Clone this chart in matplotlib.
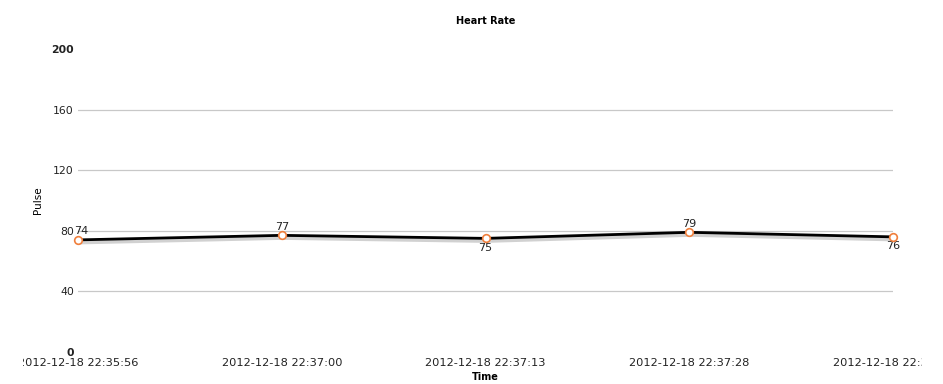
import matplotlib.pyplot as plt
import matplotlib.patheffects as pe
from matplotlib.transforms import Bbox, TransformedBbox

times = ['2012-12-18 22:35:56', '2012-12-18 22:37:00', '2012-12-18 22:37:13',
         '2012-12-18 22:37:28', '2012-12-18 22:37:41']
pulse = [74, 77, 75, 79, 76]
label_above = [True, True, False, True, False]
yticks = [0, 40, 80, 120, 160, 200]

fig = plt.figure(figsize=(9.43, 3.84), dpi=100)
ax = fig.add_axes([78 / 943, 32 / 384, 815 / 943, 303 / 384])

x = list(range(len(times)))
ax.plot(x, pulse, color='black', linewidth=2, zorder=3,
        path_effects=[pe.SimpleLineShadow(offset=(0.5, -1.5), shadow_color='#999999', alpha=0.45, linewidth=3.5),
                      pe.Normal()])
ax.plot(x, pulse, linestyle='none', marker='o', markersize=5.5, markerfacecolor='white',
        markeredgecolor='#f07f3c', markeredgewidth=1.2, zorder=4, clip_on=False)

for xi, v, up in zip(x, pulse, label_above):
    dx = 2 if xi == 0 else 0
    ax.annotate(str(v), (xi, v), xytext=(dx, 2.5 if up else -3), textcoords='offset points',
                ha='center', va='bottom' if up else 'top', fontsize=8, color='#222222')

ax.set_xlim(0, len(times) - 1)
ax.set_ylim(0, 200)
ax.set_yticks(yticks)
ax.set_yticklabels([str(t) for t in yticks])
for lbl, t in zip(ax.get_yticklabels(), yticks):
    if t in (0, 200):
        lbl.set_fontweight('bold')
ax.set_xticks(x)
ax.set_xticklabels(times, fontsize=8.2)
ax.tick_params(axis='y', labelsize=7.8)
ax.tick_params(axis='both', length=0, colors='#222222')
ax.tick_params(axis='x', pad=4)
ax.tick_params(axis='y', pad=3)

# the original chart clips the outer time labels
clip = TransformedBbox(Bbox([[23 / 943, 0], [922 / 943, 1]]), fig.transFigure)
for lbl in ax.get_xticklabels():
    lbl.set_clip_on(True)
    lbl.set_clip_box(clip)

for t in yticks[1:-1]:
    ax.axhline(t, color='#c8c8c8', linewidth=0.9, zorder=1)

for s in ax.spines.values():
    s.set_visible(False)

ax.set_xlabel('Time', fontsize=7, fontweight='bold', labelpad=3)
ax.set_ylabel('Pulse', fontsize=7.5)
ax.yaxis.set_label_coords(-0.043, 0.5)
ax.set_title('Heart Rate', fontsize=7, fontweight='bold', pad=18)

fig.savefig('out.png', dpi=100)
